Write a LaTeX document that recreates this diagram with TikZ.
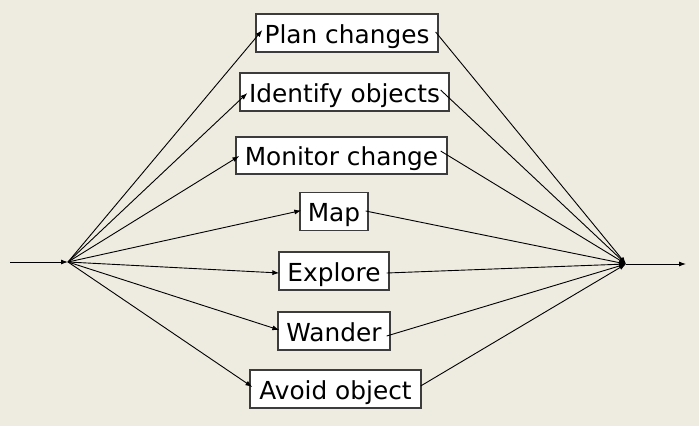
\documentclass[tikz,border=0pt]{standalone}
\usepackage{fontspec}
\setmainfont{DejaVu Sans}
\usetikzlibrary{arrows.meta}
\definecolor{bgcol}{RGB}{238,235,224}
\definecolor{boxline}{RGB}{60,60,60}
\begin{document}
\begin{tikzpicture}[x=1pt,y=-1pt,
  box/.style={draw=boxline,line width=1.3pt,fill=white,inner sep=0pt,minimum height=38pt,
    text height=20.5pt,text depth=0pt,
    font=\fontsize{24.8}{28}\selectfont},
  conn/.style={line width=0.9pt,-{Latex[length=7pt,width=5pt]}},
  plain/.style={line width=0.9pt}]
\fill[bgcol] (0,0) rectangle (699,426);
\useasboundingbox (0,0) rectangle (699,426);
\node[box,minimum width=182pt] (b1) at (347,33) {Plan changes};
\node[box,minimum width=209pt] (b2) at (344.5,92) {Identify objects};
\node[box,minimum width=211pt,minimum height=37pt] (b3) at (341.5,155.5) {Monitor change};
\node[box,minimum width=68pt] (b4) at (334,211.5) {Map};
\node[box,minimum width=110pt] (b5) at (334,271) {Explore};
\node[box,minimum width=112pt] (b6) at (334,331) {Wander};
\node[box,minimum width=171pt] (b7) at (335.5,389) {Avoid object};
\coordinate (in) at (10,262);
\coordinate (L) at (68,262);
\coordinate (R) at (626,264);
\coordinate (out) at (686,264);
\draw[conn] (in) -- (L);
\draw[conn] (L) -- ([shift={(7,-3)}]b1.west);
\draw[conn] (L) -- ([shift={(8,1)}]b2.west);
\draw[conn] (L) -- ([shift={(4,0.5)}]b3.west);
\draw[conn] (L) -- ([shift={(2,-1)}]b4.west);
\draw[conn] (L) -- ([shift={(1,2)}]b5.west);
\draw[conn] (L) -- ([shift={(2,-1)}]b6.west);
\draw[conn] (L) -- ([shift={(3,-2)}]b7.west);
\draw[conn] ([shift={(-3,-1)}]b1.east) -- (R);
\draw[conn] ([shift={(-9,-2)}]b2.east) -- (R);
\draw[conn] ([shift={(-7,-4.5)}]b3.east) -- (R);
\draw[conn] ([shift={(-3,-0.5)}]b4.east) -- (R);
\draw[conn] ([shift={(-3,2)}]b5.east) -- (R);
\draw[conn] ([shift={(-4,5)}]b6.east) -- (R);
\draw[conn] ([shift={(-1,-3)}]b7.east) -- (R);
\draw[conn] (R) -- (out);
\end{tikzpicture}
\end{document}
